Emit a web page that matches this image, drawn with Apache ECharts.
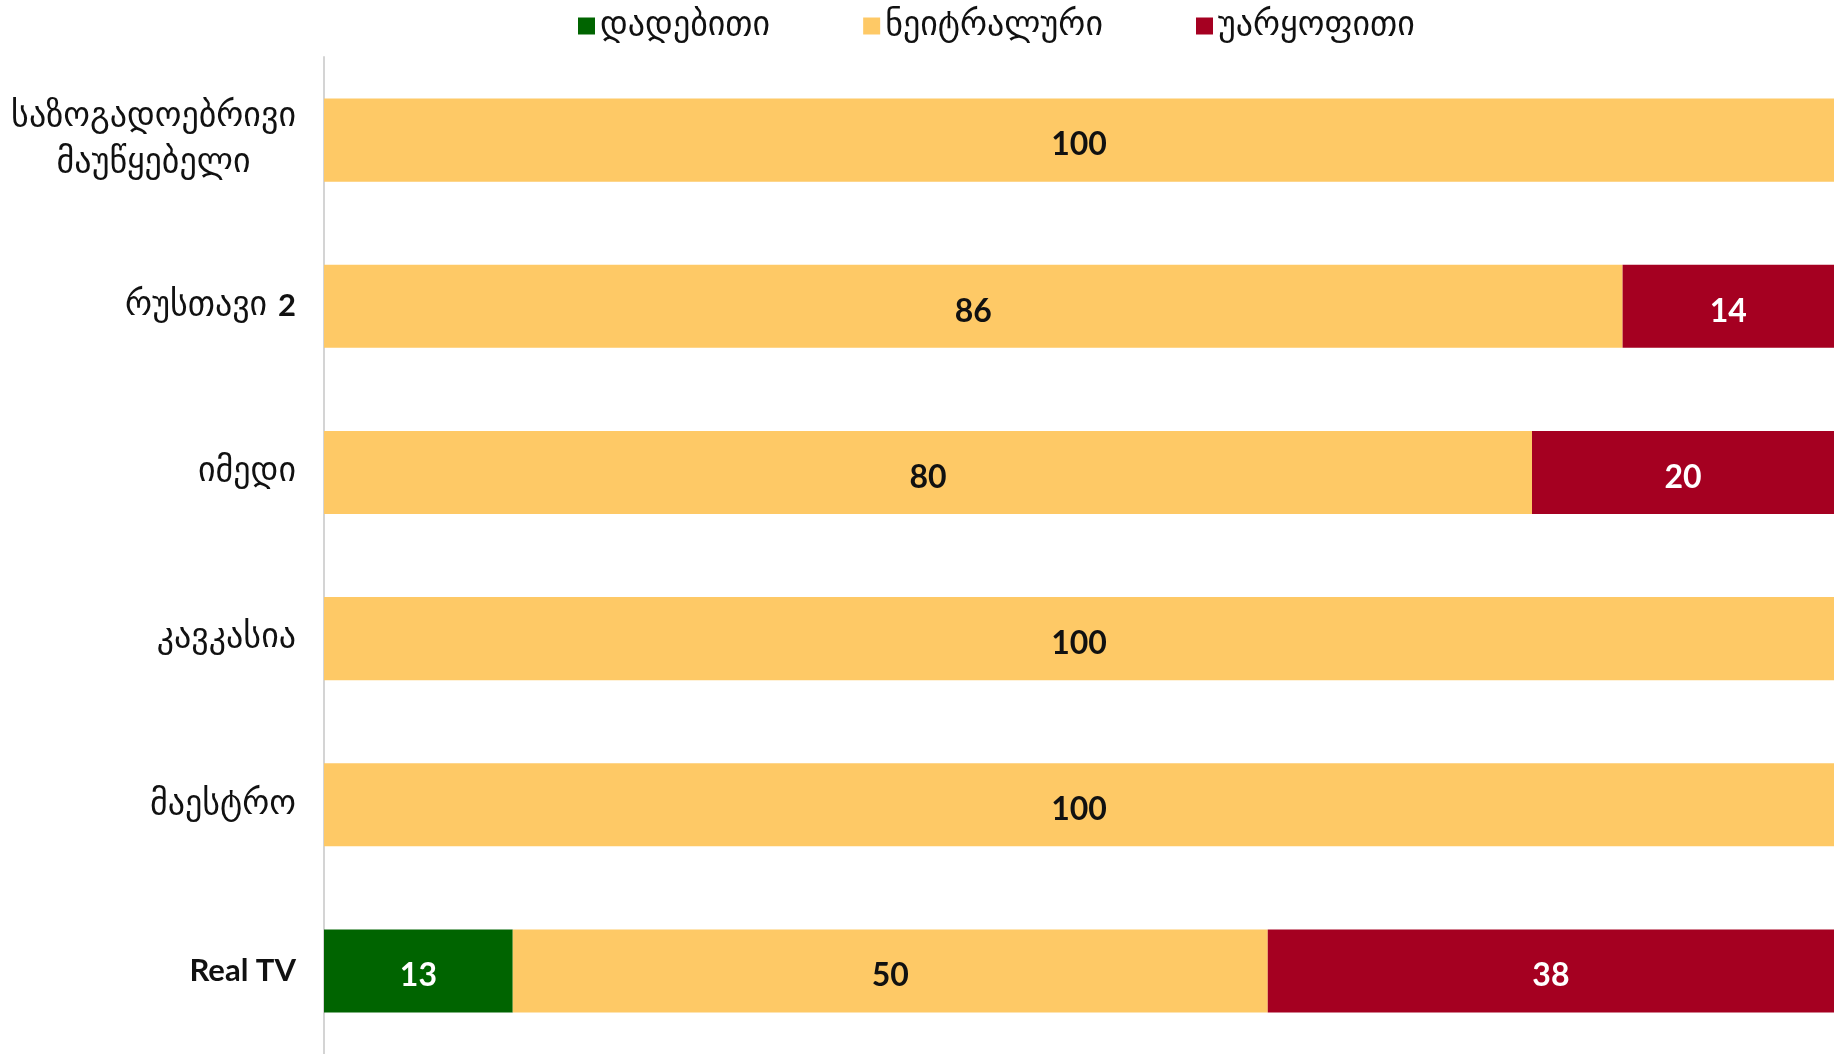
<!DOCTYPE html>
<html>
<head>
<meta charset="utf-8">
<script src="https://cdn.jsdelivr.net/npm/echarts@6/dist/echarts.min.js"></script>
<style>
	html, body { margin: 0; padding: 0; background: #fff; }
	#chart { width: 1843px; height: 1054px; }
</style>
</head>
<body>
<div id="chart"></div>
<script>
	var categories = ['საზოგადოებრივი\nმაუწყებელი', 'რუსთავი 2', 'იმედი', 'კავკასია', 'მაესტრო', 'Real TV'];
	var seriesNames = ['დადებითი', 'ნეიტრალური', 'უარყოფითი'];
	var positive = [0, 0, 0, 0, 0, 12.5];
	var neutral = [100, 86, 80, 100, 100, 50];
	var negative = [0, 14, 20, 0, 0, 37.5];
	var colors = ['#006400', '#FEC966', '#A50021'];
	var labelColors = ['#ffffff', '#111111', '#ffffff'];

	// georgian runs in regular, latin/digits in bold
	function richLabel(text) {
		return text.split('\n').map(function(line) {
			return line.replace(/([A-Za-z0-9][A-Za-z0-9 ]*)|([^A-Za-z0-9]+)/g, function(m, lat, geo) {
				return lat ? '{b|' + lat + '}' : '{g|' + geo + '}';
			});
		}).join('\n');
	}

	var series_data = [];
	var lists = [positive, neutral, negative];
	for (var i = 0; i < seriesNames.length; i++) {
		series_data.push({
			name: seriesNames[i],
			type: 'bar',
			stack: 'total',
			barWidth: '50%',
			itemStyle: { color: colors[i] },
			data: lists[i],
			label: {
				show: true,
				position: 'inside',
				offset: [0, 5],
				color: labelColors[i],
				fontFamily: 'Lato',
				fontWeight: 'bold',
				fontSize: 32,
				formatter: function(p) {
					return p.value ? String(Math.round(p.value)) : '';
				}
			}
		});
	}

	var myChart = echarts.init(document.getElementById('chart'));
	var option = {
		animation: false,
		legend: {
			top: 4,
			left: 573,
			itemWidth: 17,
			itemHeight: 17,
			itemGap: 93,
			icon: 'rect',
			textStyle: {
				fontFamily: 'DejaVu Sans',
				fontSize: 34,
				color: '#111'
			},
			data: seriesNames
		},
		grid: {
			left: 324,
			right: 9,
			top: 57,
			height: 1000
		},
		xAxis: {
			type: 'value',
			min: 0,
			max: 100,
			show: false
		},
		yAxis: {
			type: 'category',
			inverse: true,
			data: categories,
			axisLine: { show: true, lineStyle: { color: '#d4d4d4', width: 2 } },
			axisTick: { show: false },
			axisLabel: {
				margin: 28,
				formatter: richLabel,
				rich: {
					g: { fontFamily: 'DejaVu Sans', fontSize: 34, color: '#111', align: 'center', lineHeight: 46 },
					b: { fontFamily: 'Lato', fontWeight: 'bold', fontSize: 31, color: '#111', align: 'center', lineHeight: 46 }
				}
			}
		},
		series: series_data
	};
	myChart.setOption(option);
</script>
</body>
</html>
